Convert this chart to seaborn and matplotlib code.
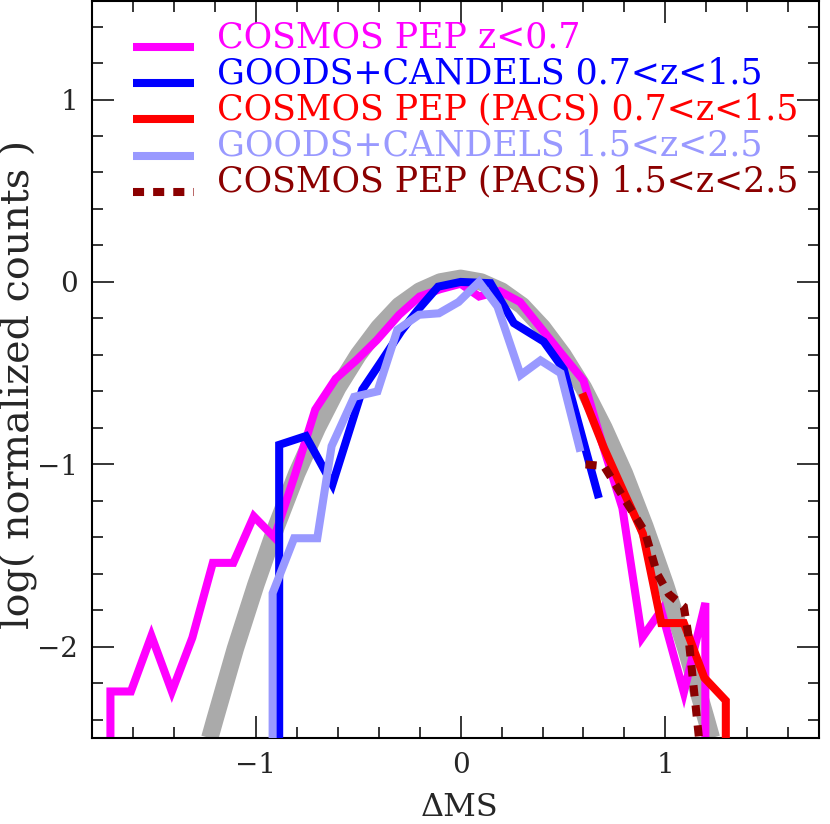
import matplotlib
matplotlib.use("Agg")
import matplotlib.pyplot as plt
import numpy as np
import pandas as pd
import seaborn as sns
from matplotlib.ticker import MultipleLocator

# ---------------- data ----------------
# model gaussian (thick gray band)
gray_x = [-1.225, -1.2, -1.1, -1.0, -0.9, -0.8, -0.7, -0.6, -0.5, -0.4, -0.3, -0.2, -0.1, 0.0,
          0.1, 0.2, 0.3, 0.4, 0.5, 0.6, 0.7, 0.8, 0.9, 1.0, 1.1, 1.2, 1.225]
gray_y = [-2.50, -2.40, -2.01, -1.66, -1.34, -1.05, -0.80, -0.58, -0.40, -0.25, -0.13, -0.05, 0.0, 0.02,
          0.0, -0.05, -0.13, -0.25, -0.40, -0.58, -0.80, -1.05, -1.34, -1.66, -2.01, -2.40, -2.50]

# COSMOS PEP z<0.7
mag_x = [-1.71, -1.71, -1.61, -1.51, -1.41, -1.31, -1.21, -1.11, -1.01, -0.91, -0.81, -0.71, -0.61,
         -0.51, -0.41, -0.30, -0.20, -0.10, 0.00, 0.09, 0.19, 0.29, 0.39, 0.49, 0.60, 0.69, 0.79,
         0.886, 0.98, 1.09, 1.195, 1.195]
mag_y = [-2.60, -2.245, -2.245, -1.94, -2.245, -1.95, -1.54, -1.54, -1.285, -1.40, -1.06, -0.70, -0.53,
         -0.43, -0.32, -0.18, -0.08, -0.04, -0.01, -0.08, -0.05, -0.11, -0.25, -0.39, -0.54, -0.88, -1.24,
         -1.95, -1.80, -2.25, -1.76, -2.60]

# GOODS+CANDELS 0.7<z<1.5
blu_x = [-0.886, -0.886, -0.756, -0.626, -0.48, -0.39, -0.29, -0.21, -0.11, 0.0, 0.146, 0.26, 0.406,
         0.504, 0.675]
blu_y = [-2.60, -0.893, -0.845, -1.11, -0.59, -0.44, -0.27, -0.155, -0.026, 0.0, -0.007, -0.226, -0.327,
         -0.48, -1.185]

# COSMOS PEP (PACS) 0.7<z<1.5
red_x = [0.594, 0.70, 0.80, 0.89, 0.98, 1.09, 1.19, 1.295, 1.295]
red_y = [-0.61, -0.91, -1.16, -1.38, -1.87, -1.87, -2.17, -2.295, -2.60]

# GOODS+CANDELS 1.5<z<2.5
lb_x = [-0.918, -0.918, -0.813, -0.70, -0.63, -0.52, -0.406, -0.309, -0.203, -0.106, -0.01, 0.09,
        0.18, 0.293, 0.39, 0.488, 0.585]
lb_y = [-2.60, -1.706, -1.405, -1.405, -0.90, -0.63, -0.60, -0.263, -0.18, -0.172, -0.11, 0.0,
        -0.135, -0.51, -0.43, -0.50, -0.93]

# COSMOS PEP (PACS) 1.5<z<2.5
dr_x = [0.61, 0.70, 0.80, 0.90, 0.96, 1.016, 1.09, 1.11, 1.175]
dr_y = [-1.00, -1.01, -1.19, -1.37, -1.60, -1.71, -1.78, -1.92, -2.62]

labels = ["COSMOS PEP z<0.7", "GOODS+CANDELS 0.7<z<1.5", "COSMOS PEP (PACS) 0.7<z<1.5",
          "GOODS+CANDELS 1.5<z<2.5", "COSMOS PEP (PACS) 1.5<z<2.5"]
colors = ["#ff00ff", "#0000ff", "#ff0000", "#9999ff", "#8b0000"]
gray_color = "#aaaaaa"

x_ticks = [-1, 0, 1]
y_ticks = [-2, -1, 0, 1]

# ---------------- figure ----------------
sns.set_theme(style="ticks")
plt.rcParams['font.family'] = ['DejaVu Serif']
plt.rcParams['axes.unicode_minus'] = True

W, H = 830, 824
fig = plt.figure(figsize=(W / 100, H / 100), dpi=100)
L, R, T, B = 92, 819, 1, 738
ax = fig.add_axes([L / W, 1 - B / H, (R - L) / W, (B - T) / H])

LW = 5.8
DASH = (0, (1.375, 1.125))


def draw(x, y, color, lw, z, **kw):
    df = pd.DataFrame({"x": x, "y": y})
    sns.lineplot(data=df, x="x", y="y", sort=False, estimator=None, errorbar=None,
                 color=color, lw=lw, ax=ax, zorder=z, legend=False, **kw)


draw(gray_x, gray_y, gray_color, 12.5, 1, solid_capstyle="butt", solid_joinstyle="round")
draw(mag_x, mag_y, colors[0], LW, 2, solid_capstyle="butt", solid_joinstyle="miter")
draw(blu_x, blu_y, colors[1], LW, 3, solid_capstyle="butt", solid_joinstyle="miter")
draw(red_x, red_y, colors[2], LW, 4, solid_capstyle="butt", solid_joinstyle="miter")
draw(lb_x, lb_y, colors[3], LW, 5, solid_capstyle="butt", solid_joinstyle="miter")
draw(dr_x, dr_y, colors[4], LW, 6, linestyle=DASH, dash_capstyle="butt", dash_joinstyle="miter")

ax.set_xlim(-1.8, 1.75)
ax.set_ylim(-2.5, 1.54)

ax.xaxis.set_major_locator(plt.FixedLocator(x_ticks))
ax.yaxis.set_major_locator(plt.FixedLocator(y_ticks))
ax.xaxis.set_minor_locator(MultipleLocator(0.2))
ax.yaxis.set_minor_locator(MultipleLocator(0.2))
ax.tick_params(which="both", direction="in", top=True, right=True, width=1.1, color="black")
ax.tick_params(which="major", length=16)
ax.tick_params(which="minor", length=8)
ax.tick_params(axis="x", which="major", labelsize=20, pad=10)
ax.tick_params(axis="y", which="major", labelsize=20, pad=10)
for s in ax.spines.values():
    s.set_linewidth(1.5)
    s.set_color("black")

ax_h = B - T
ax_w = R - L

ax.set_xlabel("ΔMS", fontsize=23)
ax.xaxis.label.set_verticalalignment("baseline")
ax.set_ylabel("log( normalized counts )", fontsize=28.5)
ax.xaxis.set_label_coords((460 - L) / ax_w, -(816 - B) / ax_h)
ax.yaxis.set_label_coords(-(L - 38) / ax_w, 1 - (384 - T) / ax_h)

# ---------------- legend (manual, keys in axes fraction) ----------------
for i, (lab, col) in enumerate(zip(labels, colors)):
    py = 47 + 36.2 * i
    yf = 1 - (py - T) / ax_h
    x0 = (132.5 - L) / ax_w
    x1 = (193.8 - L) / ax_w
    ls = DASH if i == 4 else "-"
    ax.plot([x0, x1], [yf, yf], transform=ax.transAxes, color=col, lw=LW, ls=ls,
            solid_capstyle="butt", dash_capstyle="butt", clip_on=False, zorder=7)
    ax.text((217 - L) / ax_w, yf, lab, transform=ax.transAxes, color=col, fontsize=25,
            va="baseline", ha="left", zorder=7)

fig.savefig("out.png", dpi=100)
